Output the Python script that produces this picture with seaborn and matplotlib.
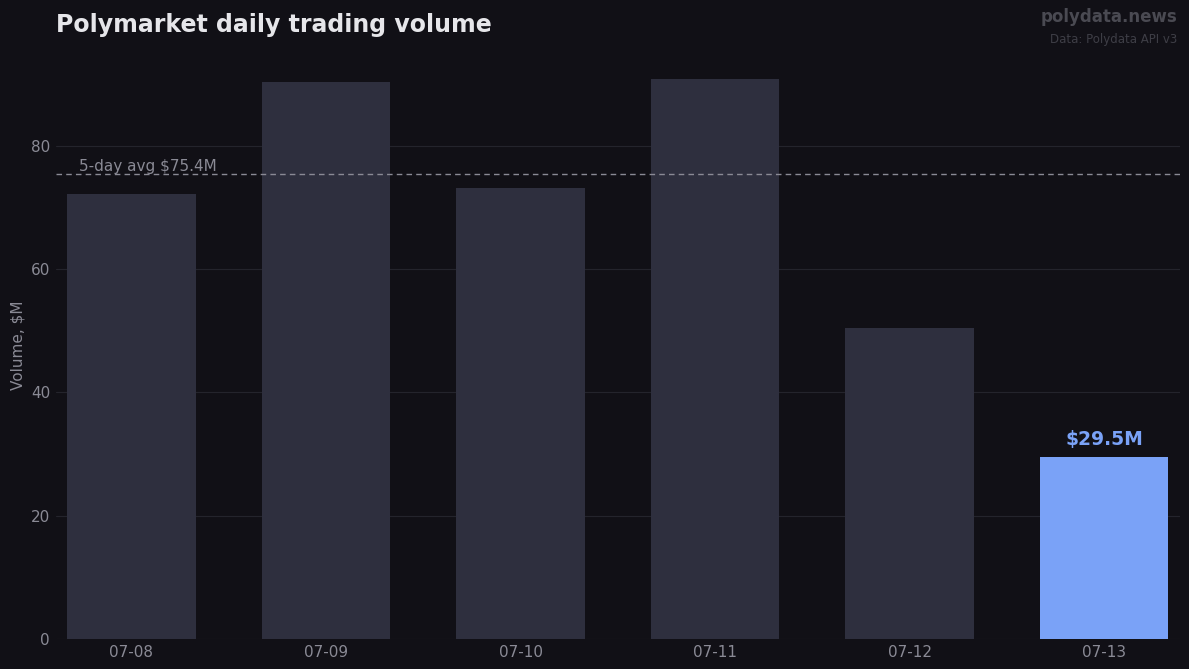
import numpy as np
import pandas as pd
import matplotlib
matplotlib.use("Agg")
import matplotlib.pyplot as plt
import seaborn as sns

# data
days = ["07-08", "07-09", "07-10", "07-11", "07-12", "07-13"]
volume = [72.2, 90.4, 73.2, 90.9, 50.5, 29.5]
avg_label = "5-day avg $75.4M"

bg = "#111016"
bar_col = "#2e2f3e"
hi_col = "#7aa2f7"
grid_col = "#24242c"
tick_col = "#8a8a95"

sns.set_theme(style="dark")
plt.rcParams["font.family"] = ["DejaVu Sans"]

df = pd.DataFrame({"day": days, "vol": volume})
colors = [bar_col] * (len(days) - 1) + [hi_col]

fig = plt.figure(figsize=(11.89, 6.69), dpi=100, facecolor=bg)
ax = fig.add_axes([56 / 1189, 30 / 669, (1180 - 56) / 1189, (639 - 51) / 669])
ax.set_facecolor(bg)

sns.barplot(data=df, x="day", y="vol", hue="day", palette=colors,
            legend=False, width=0.66, saturation=1, linewidth=0,
            edgecolor="none", ax=ax)

# 平均線
avg = np.mean(volume[:-1])
ax.axhline(avg, color="#8a8a95", linestyle=(0, (4, 3)), linewidth=1.0, zorder=1)
ax.text(-0.27, avg - 0.05, avg_label, color="#8a8a95", fontsize=11,
        ha="left", va="bottom")

ax.text(5, volume[-1] + 1.3, f"${volume[-1]}M", color=hi_col, fontsize=13.5,
        fontweight="bold", ha="center", va="bottom")

ax.set_xlim(-0.388, 5.39)
ax.set_ylim(0, 95.4)
ax.set_yticks([0, 20, 40, 60, 80])
ax.yaxis.grid(True, color=grid_col, linewidth=0.8)
ax.xaxis.grid(False)
ax.set_axisbelow(True)
for s in ax.spines.values():
    s.set_visible(False)
ax.tick_params(colors=tick_col, labelsize=11, length=0)
ax.tick_params(axis="y", pad=4.3)
ax.tick_params(axis="x", pad=4)
ax.set_xlabel("")
ax.set_ylabel("Volume, $M", color=tick_col, fontsize=11, labelpad=3.5)

fig.text(56 / 1189, 1 - 25 / 669, "Polymarket daily trading volume",
         color="#e6e6ea", fontsize=17, fontweight="bold", va="center")
fig.text(1177 / 1189, 1 - 17 / 669, "polydata.news", color="#4a4a52",
         fontsize=12, fontweight="bold", ha="right", va="center")
fig.text(1177 / 1189, 1 - 39 / 669, "Data: Polydata API v3", color="#3e3e46",
         fontsize=8.5, ha="right", va="center")

fig.savefig("out.png", dpi=100, facecolor=bg)
